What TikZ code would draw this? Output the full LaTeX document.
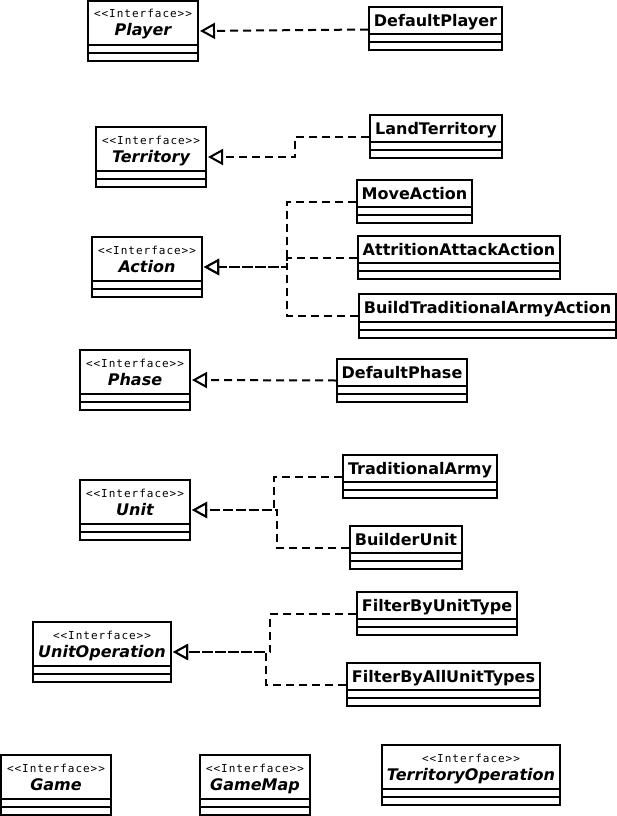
\documentclass[tikz,border=0pt]{standalone}
\usepackage{fontspec}
\setmainfont{DejaVu Sans}
\newfontfamily\stereofont[LetterSpace=9]{DejaVu Sans Mono}
\usetikzlibrary{arrows.meta}
\tikzset{
  box/.style={draw, line width=2pt, inner sep=0pt, anchor=center},
  sepline/.style={line width=2pt},
  stereo/.style={font=\stereofont\fontsize{11}{13}\selectfont, anchor=base, inner sep=0pt},
  iname/.style={font=\fontsize{16}{19}\selectfont\bfseries\itshape, anchor=base, inner sep=0pt},
  cname/.style={font=\fontsize{16}{19}\selectfont\bfseries, anchor=base, inner sep=0pt},
  impl/.style={line width=2pt, dash pattern=on 8pt off 5pt, -{Triangle[open, length=15pt, width=16pt, line width=2pt, fill=white]}, shorten >=1pt},
}
\newcommand\ifacebox[6]{%
  \node[box, minimum width={#4-#2}, minimum height={#5-#3}] (#1) at ({(#2+#4)/2},{(#3+#5)/2}) {};
  \draw[sepline] (#2,#5-16) -- (#4,#5-16);
  \draw[sepline] (#2,#5-8) -- (#4,#5-8);
  \node[stereo] (#1-st) at ({(#2+#4)/2},#3+17) {<<Interface>>};
  \node[iname] (#1-nm) at ({(#2+#4)/2},#3+35) {#6};
}
\newcommand\clsbox[6]{%
  \node[box, minimum width={#4-#2}, minimum height={#5-#3}] (#1) at ({(#2+#4)/2},{(#3+#5)/2}) {};
  \draw[sepline] (#2,#5-16) -- (#4,#5-16);
  \draw[sepline] (#2,#5-8) -- (#4,#5-8);
  \node[cname] (#1-nm) at ({(#2+#4)/2},#3+19.5) {#6};
}
\begin{document}
\begin{tikzpicture}[x=1pt,y=-1pt]
\useasboundingbox (0,0) rectangle (617,816);
% interfaces
\ifacebox{player}{88}{1}{198}{61}{Player}
\ifacebox{territory}{96}{127}{206}{187}{Territory}
\ifacebox{action}{92}{237}{202}{297}{Action}
\ifacebox{phase}{80}{350}{190}{410}{Phase}
\ifacebox{unit}{80}{480}{190}{540}{Unit}
\ifacebox{unitop}{33}{622}{171}{682}{UnitOperation}
\ifacebox{game}{1}{755}{111}{815}{Game}
\ifacebox{gamemap}{200}{755}{310}{815}{GameMap}
\ifacebox{terrop}{382}{745}{560}{805}{TerritoryOperation}
% classes
\clsbox{defplayer}{369}{7}{502}{50}{DefaultPlayer}
\clsbox{land}{370}{115}{502}{158}{LandTerritory}
\clsbox{move}{357}{180}{472}{223}{MoveAction}
\clsbox{attr}{358}{236}{560}{279}{AttritionAttackAction}
\clsbox{build}{359}{294}{616}{338}{BuildTraditionalArmyAction}
\clsbox{defphase}{337}{359}{467}{402}{DefaultPhase}
\clsbox{trad}{343}{455}{497}{498}{TraditionalArmy}
\clsbox{builder}{350}{526}{462}{569}{BuilderUnit}
\clsbox{fbut}{357}{592}{517}{635}{FilterByUnitType}
\clsbox{fbaut}{347}{663}{540}{706}{FilterByAllUnitTypes}
% connectors
\draw[impl] (defplayer.west) ++(0,1) -- (player.east);
\draw[impl] (land.west) -- ++(-74,0) |- (territory.east);
\draw[impl] (move.west) -- ++(-69,0) |- (action.east);
\draw[impl] (attr.west) -- ++(-70,0) |- (action.east);
\draw[impl] (build.west) -- ++(-71,0) |- (action.east);
\draw[impl] (defphase.west) -- (phase.east);
\draw[impl] (trad.west) -- ++(-68,0) |- (unit.east);
\draw[impl] (builder.west) -- ++(-72,0) |- (unit.east);
\draw[impl] (fbut.west) -- ++(-86,0) |- (unitop.east);
\draw[impl] (fbaut.west) -- ++(-80,0) |- (unitop.east);
\end{tikzpicture}
\end{document}
